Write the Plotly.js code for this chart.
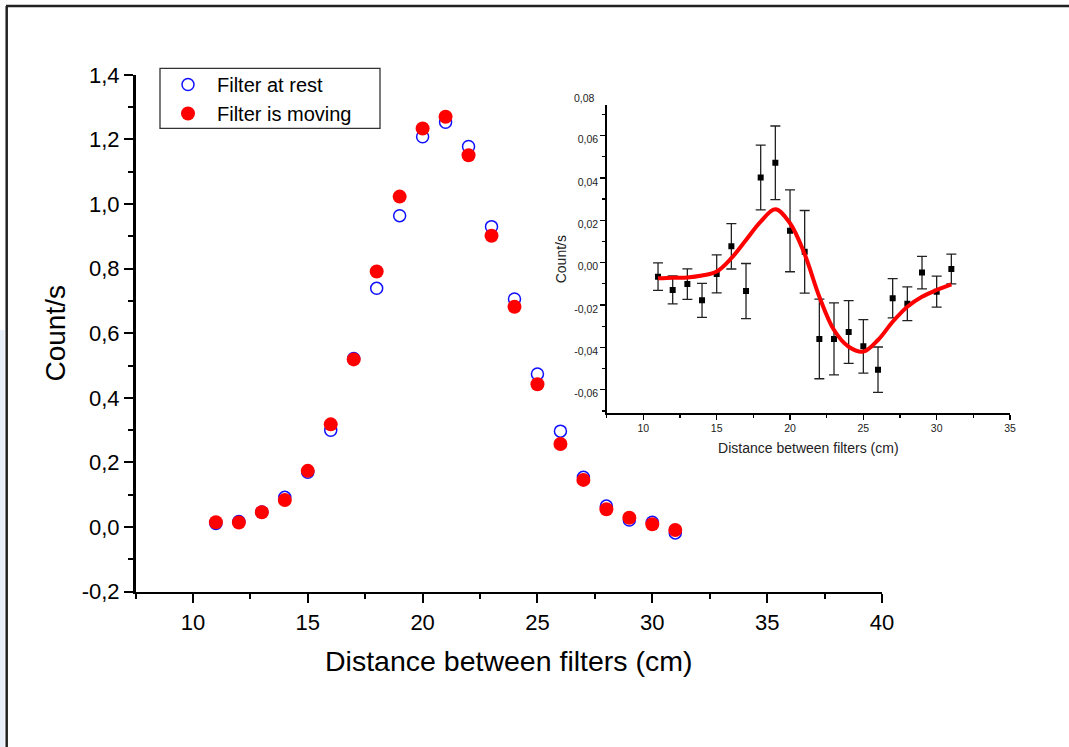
<!DOCTYPE html>
<html>
<head>
<meta charset="utf-8">
<script src="https://cdn.plot.ly/plotly-3.0.1.min.js"></script>
<style>
html,body{margin:0;padding:0;background:#fff;}
#chart{width:1069px;height:747px;}
</style>
</head>
<body>
<div id="chart"></div>
<script>
// ---- main chart data ----
const distance = [11,12,13,14,15,16,17,18,19,20,21,22,23,24,25,26,27,28,29,30,31];
const filterAtRest = [0.011,0.017,0.047,0.092,0.170,0.300,0.522,0.739,0.964,1.208,1.253,1.178,0.930,0.706,0.474,0.297,0.154,0.065,0.022,0.015,-0.018];
const filterMoving = [0.015,0.014,0.046,0.084,0.174,0.318,0.519,0.791,1.023,1.234,1.270,1.151,0.902,0.682,0.442,0.257,0.146,0.055,0.029,0.009,-0.009];

// ---- inset data (difference) ----
const diffValues = [-0.0066,-0.0129,-0.0101,-0.0178,-0.0053,0.0077,-0.0134,0.0402,0.0471,0.0150,0.0051,-0.0360,-0.0360,-0.0327,-0.0395,-0.0505,-0.0168,-0.0194,-0.0047,-0.0137,-0.0030];
const diffErrors = [0.0065,0.0066,0.0072,0.0080,0.0090,0.0107,0.0130,0.0153,0.0174,0.0193,0.0195,0.0188,0.0170,0.0148,0.0126,0.0107,0.0093,0.0080,0.0077,0.0073,0.0070];
const fitX = [11,12,13,14,15,16,17,18,19,20,21,22,23,24,25,26,27,28,29,30,31];
const fitY = [-0.0074,-0.0071,-0.0070,-0.0061,-0.0042,0.0021,0.0107,0.0194,0.0252,0.0186,0.0040,-0.0161,-0.0318,-0.0397,-0.0420,-0.0365,-0.0279,-0.0208,-0.0161,-0.0129,-0.0102];

// ---- tick labels ----
const mainYTickVals = [-0.2,0,0.2,0.4,0.6,0.8,1.0,1.2,1.4];
const mainYTickText = ['-0,2','0,0','0,2','0,4','0,6','0,8','1,0','1,2','1,4'];
const mainXTickVals = [10,15,20,25,30,35,40];
const mainXTickText = ['10','15','20','25','30','35','40'];
const insetYTickVals = [-0.06,-0.04,-0.02,0,0.02,0.04,0.06];
const insetYTickText = ['-0,06','-0,04','-0,02','0,00','0,02','0,04','0,06'];
const insetYTopLabel = '0,08';
const insetXTickVals = [10,15,20,25,30,35];
const insetXTickText = ['10','15','20','25','30','35'];

const FONT = 'Arial, "Liberation Sans", sans-serif';
const W = 1069, H = 747;
const px = v => v / W;
const py = v => 1 - v / H;

const traces = [
  {
    x: distance, y: filterAtRest, type: 'scatter', mode: 'markers', name: 'Filter at rest',
    marker: {symbol: 'circle-open', size: 12, color: '#1010ff', line: {width: 1.5, color: '#1010ff'}},
    xaxis: 'x', yaxis: 'y'
  },
  {
    x: distance, y: filterMoving, type: 'scatter', mode: 'markers', name: 'Filter is moving',
    marker: {symbol: 'circle', size: 14, color: '#ff0000'},
    xaxis: 'x', yaxis: 'y'
  },
  {
    x: distance, y: diffValues, type: 'scatter', mode: 'markers', name: 'difference', showlegend: false,
    marker: {symbol: 'square', size: 6, color: '#000'},
    error_y: {type: 'data', array: diffErrors, visible: true, color: '#222', thickness: 1.3, width: 5},
    xaxis: 'x2', yaxis: 'y2'
  },
  {
    x: fitX, y: fitY, type: 'scatter', mode: 'lines', name: 'fit', showlegend: false,
    line: {color: '#ff0000', width: 4, shape: 'spline', smoothing: 1},
    xaxis: 'x2', yaxis: 'y2'
  }
];

const layout = {
  width: W, height: H,
  margin: {l: 0, r: 0, t: 0, b: 0},
  paper_bgcolor: '#fff', plot_bgcolor: 'rgba(0,0,0,0)',
  font: {family: FONT, color: '#000'},
  showlegend: true,
  legend: {
    x: px(159), y: py(65), xanchor: 'left', yanchor: 'top',
    bgcolor: 'rgba(0,0,0,0)', borderwidth: 0,
    font: {family: FONT, size: 20, color: '#000'},
    itemwidth: 48, tracegroupgap: 0
  },
  xaxis: {
    domain: [px(135.5), px(882)], anchor: 'y',
    range: [7.5, 40], showgrid: false, zeroline: false,
    showline: true, linecolor: '#000', linewidth: 2.5,
    ticks: 'outside', ticklen: 9, tickwidth: 2, tickcolor: '#000',
    tickmode: 'array', tickvals: mainXTickVals, ticktext: mainXTickText,
    minor: {tickmode: 'linear', tick0: 7.5, dtick: 2.5, ticks: 'outside', ticklen: 5, tickwidth: 2, tickcolor: '#000'},
    tickfont: {family: FONT, size: 22},
    title: {text: 'Distance between filters (cm)', font: {family: FONT, size: 28.5}, standoff: 18}
  },
  yaxis: {
    domain: [py(591.7), py(74.8)], anchor: 'x',
    range: [-0.2, 1.4], showgrid: false, zeroline: false,
    showline: true, linecolor: '#000', linewidth: 2.5,
    ticks: 'outside', ticklen: 9, tickwidth: 2, tickcolor: '#000',
    tickmode: 'array', tickvals: mainYTickVals, ticktext: mainYTickText,
    minor: {tickmode: 'linear', tick0: -0.1, dtick: 0.2, ticks: 'outside', ticklen: 5, tickwidth: 2, tickcolor: '#000'},
    tickfont: {family: FONT, size: 22},
    title: {text: 'Count/s', font: {family: FONT, size: 28}, standoff: 8}
  },
  xaxis2: {
    domain: [px(606.7), px(1010)], anchor: 'y2',
    range: [7.5, 35], showgrid: false, zeroline: false,
    showline: true, linecolor: '#000', linewidth: 1.5,
    ticks: 'outside', ticklen: 5, tickwidth: 1.3, tickcolor: '#000',
    tickmode: 'array', tickvals: insetXTickVals, ticktext: insetXTickText,
    minor: {tickmode: 'linear', tick0: 7.5, dtick: 2.5, ticks: 'outside', ticklen: 3, tickwidth: 1.3, tickcolor: '#000'},
    tickfont: {family: FONT, size: 10.5, color: '#222'},
    title: {text: 'Distance between filters (cm)', font: {family: FONT, size: 14, color: '#222'}, standoff: 10}
  },
  yaxis2: {
    domain: [py(413.3), py(105)], anchor: 'x2',
    range: [-0.0711, 0.0744], showgrid: false, zeroline: false,
    showline: true, linecolor: '#000', linewidth: 1.5,
    ticks: 'outside', ticklen: 5, tickwidth: 1.3, tickcolor: '#000',
    tickmode: 'array', tickvals: insetYTickVals, ticktext: insetYTickText,
    ticklabelshift: 4,
    minor: {tickmode: 'linear', tick0: 0.01, dtick: 0.02, ticks: 'outside', ticklen: 3, tickwidth: 1.3, tickcolor: '#000'},
    tickfont: {family: FONT, size: 10.5, color: '#222'},
    title: {text: 'Count/s', font: {family: FONT, size: 14, color: '#222'}, standoff: 4}
  },
  annotations: [
    {text: insetYTopLabel, xref: 'paper', yref: 'paper', x: px(597), y: py(97.5),
     xanchor: 'right', yanchor: 'middle', showarrow: false,
     font: {family: FONT, size: 10.5, color: '#222'}}
  ],
  shapes: [
    // legend box
    {type: 'rect', xref: 'paper', yref: 'paper', x0: px(160), x1: px(380), y0: py(128.3), y1: py(68.3),
     line: {color: '#333', width: 1.3}, fillcolor: 'rgba(0,0,0,0)'},
    // page frame
    {type: 'rect', xref: 'paper', yref: 'paper', x0: 0, x1: px(4.5), y0: 0, y1: py(330),
     line: {width: 0}, fillcolor: '#e8eff8', layer: 'below'},
    {type: 'line', xref: 'paper', yref: 'paper', x0: px(6), x1: 1, y0: py(6), y1: py(6),
     line: {color: '#222', width: 2.5}},
    {type: 'line', xref: 'paper', yref: 'paper', x0: px(6.7), x1: px(6.7), y0: 0, y1: py(6),
     line: {color: '#222', width: 2.5}}
  ]
};

Plotly.newPlot('chart', traces, layout, {displayModeBar: false, staticPlot: true});
</script>
</body>
</html>
